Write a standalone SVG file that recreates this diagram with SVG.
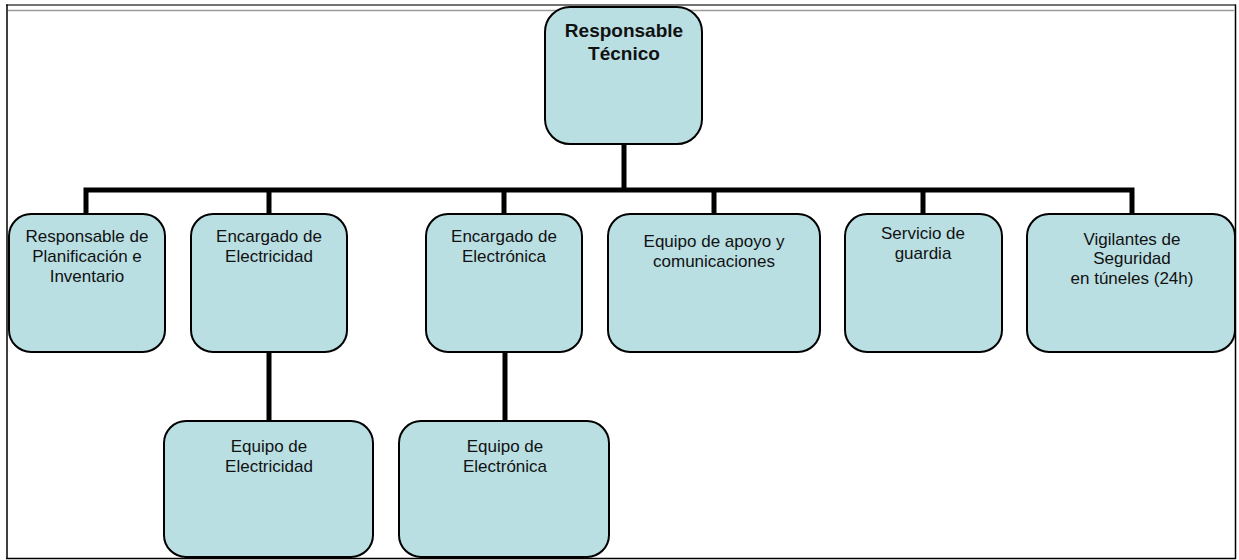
<svg xmlns="http://www.w3.org/2000/svg" width="1239" height="560" viewBox="0 0 1239 560">
  <style>
    .box { fill: #b9dfe3; stroke: #000; stroke-width: 2; }
    .lbl { font-family: "Liberation Sans", Arial, sans-serif; font-size: 17px; fill: #111; text-anchor: middle; }
    .root { font-family: "Liberation Sans", Arial, sans-serif; font-size: 19px; font-weight: bold; fill: #111; text-anchor: middle; }
    .conn { fill: none; stroke: #000; stroke-width: 5; stroke-linejoin: miter; stroke-linecap: butt; }
  </style>
  <rect width="1239" height="560" fill="#fff"/>
  <g id="frame">
    <line x1="6" y1="5" x2="1236" y2="5" stroke="#444" stroke-width="1.6"/>
    <line x1="8" y1="10.5" x2="1234" y2="10.5" stroke="#9a9a9a" stroke-width="1.4"/>
    <line x1="7" y1="4.5" x2="7" y2="559" stroke="#000" stroke-width="1.5"/>
    <line x1="1235.5" y1="4.5" x2="1235.5" y2="559" stroke="#000" stroke-width="1.5"/>
    <line x1="6" y1="558.5" x2="1236" y2="558.5" stroke="#000" stroke-width="1.5"/>
  </g>
  <g id="connectors">
    <path class="conn" d="M624 144 V190"/>
    <path class="conn" d="M86 214 V190 H1132 V214"/>
    <path class="conn" d="M269 190 V214"/>
    <path class="conn" d="M504 190 V214"/>
    <path class="conn" d="M714 190 V214"/>
    <path class="conn" d="M923 190 V214"/>
    <path class="conn" d="M269 352 V421"/>
    <path class="conn" d="M505 352 V421"/>
  </g>
  <g id="responsable-tecnico">
    <rect class="box" x="545" y="7" width="157" height="137" rx="25"/>
    <text class="root" x="624" y="37">Responsable</text>
    <text class="root" x="624" y="60">Técnico</text>
  </g>
  <g id="planificacion">
    <rect class="box" x="9" y="214" width="156" height="138" rx="22"/>
    <text class="lbl" x="87" y="242">Responsable de</text>
    <text class="lbl" x="87" y="262">Planificación e</text>
    <text class="lbl" x="87" y="282">Inventario</text>
  </g>
  <g id="encargado-electricidad">
    <rect class="box" x="191" y="214" width="156" height="138" rx="22"/>
    <text class="lbl" x="269" y="242">Encargado de</text>
    <text class="lbl" x="269" y="262">Electricidad</text>
  </g>
  <g id="encargado-electronica">
    <rect class="box" x="426" y="214" width="156" height="138" rx="22"/>
    <text class="lbl" x="504" y="242">Encargado de</text>
    <text class="lbl" x="504" y="262">Electrónica</text>
  </g>
  <g id="apoyo-comunicaciones">
    <rect class="box" x="608" y="214" width="212" height="138" rx="22"/>
    <text class="lbl" x="714" y="247">Equipo de apoyo y</text>
    <text class="lbl" x="714" y="267">comunicaciones</text>
  </g>
  <g id="servicio-guardia">
    <rect class="box" x="845" y="214" width="157" height="138" rx="22"/>
    <text class="lbl" x="923" y="239">Servicio de</text>
    <text class="lbl" x="923" y="259">guardia</text>
  </g>
  <g id="vigilantes">
    <rect class="box" x="1027" y="214" width="208" height="138" rx="22"/>
    <text class="lbl" x="1132" y="245">Vigilantes de</text>
    <text class="lbl" x="1132" y="264">Seguridad</text>
    <text class="lbl" x="1132" y="284">en túneles (24h)</text>
  </g>
  <g id="equipo-electricidad">
    <rect class="box" x="164" y="421" width="209" height="136" rx="22"/>
    <text class="lbl" x="269" y="452">Equipo de</text>
    <text class="lbl" x="269" y="472">Electricidad</text>
  </g>
  <g id="equipo-electronica">
    <rect class="box" x="399" y="421" width="210" height="136" rx="22"/>
    <text class="lbl" x="505" y="452">Equipo de</text>
    <text class="lbl" x="505" y="472">Electrónica</text>
  </g>
</svg>
